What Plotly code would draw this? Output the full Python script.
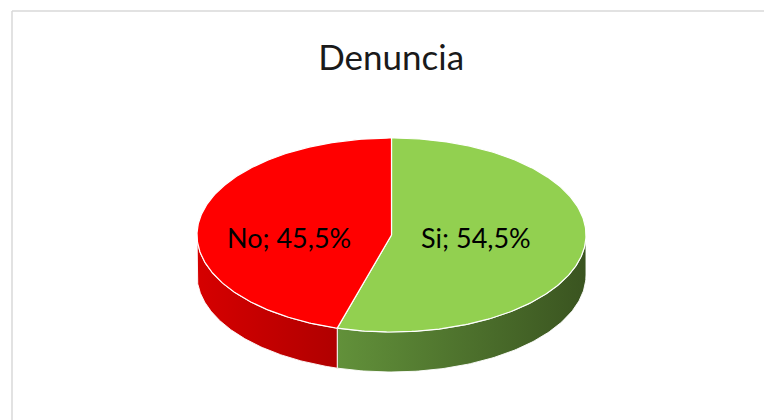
import numpy as np
import plotly.graph_objects as go

# ---- data ----
labels = ["Si", "No"]
values = [54.5, 45.5]
label_texts = ["Si; 54,5%", "No; 45,5%"]
top_colors = ["#92d050", "#ff0000"]
side_colors = [["#62913a", "#3a5420"], ["#d60000", "#b00000"]]
title_text = "Denuncia"

# ---- geometry of the tilted pie (pixel space) ----
W, H = 764, 420
cx, cy = 391.5, 235.0
rx, ry = 194.5, 97.0
depth = 40.0


def pt(theta_deg, fx=1.0, fy=1.0, dx=0.0, dy=0.0):
    t = np.radians(theta_deg)
    return cx + fx * rx * np.sin(t) + dx, cy - fy * ry * np.cos(t) + dy


fig = go.Figure()

total = float(sum(values))
starts = []
acc = 0.0
for v in values:
    starts.append(acc / total * 360.0)
    acc += v
ends = starts[1:] + [360.0]

# sides (front half only: 90..270 degrees)
for i in range(len(values)):
    a = max(starts[i], 90.0)
    b = min(ends[i], 270.0)
    if b <= a:
        continue
    th = np.linspace(a, b, 120)
    xt, yt = pt(th)
    xb, yb = pt(th[::-1], dy=depth)
    xs = np.concatenate([xt, xb, xt[:1]])
    ys = np.concatenate([yt, yb, yt[:1]])
    fig.add_trace(go.Scatter(
        x=xs, y=ys, mode="lines", fill="toself",
        line=dict(color="rgba(255,255,255,0.9)", width=1),
        fillgradient=dict(type="horizontal",
                          colorscale=[[0, side_colors[i][0]], [1, side_colors[i][1]]]),
        hoverinfo="skip", showlegend=False))

# top faces
for i in range(len(values)):
    th = np.linspace(starts[i], ends[i], 240)
    xa, ya = pt(th)
    xs = np.concatenate([[cx], xa, [cx]])
    ys = np.concatenate([[cy], ya, [cy]])
    fig.add_trace(go.Scatter(
        x=xs, y=ys, mode="lines", fill="toself",
        fillcolor=top_colors[i],
        line=dict(color="white", width=1.2),
        name=labels[i], hoverinfo="name", showlegend=False))

# labels
lx, ly = [], []
for i in range(len(values)):
    mid = (starts[i] + ends[i]) / 2.0
    x, y = pt(mid, fx=0.485, fy=0.0, dx=-9, dy=6)
    lx.append(x)
    ly.append(y)
fig.add_trace(go.Scatter(
    x=lx, y=ly, mode="text", text=label_texts,
    textfont=dict(family="Lato, Calibri, sans-serif", size=27, color="#000000"),
    hoverinfo="skip", showlegend=False))

fig.update_layout(
    width=W, height=H,
    margin=dict(l=0, r=0, t=0, b=0),
    paper_bgcolor="white", plot_bgcolor="white",
    title=dict(text=title_text, x=0.512, xanchor="center",
               y=1 - 58 / H, yanchor="middle", yref="paper",
               font=dict(family="Lato, Calibri, sans-serif", size=35, color="#1a1a1a")),
    xaxis=dict(range=[0, W], visible=False, fixedrange=True),
    yaxis=dict(range=[H, 0], visible=False, fixedrange=True),
    shapes=[
        dict(type="line", xref="paper", yref="paper", x0=12 / W, x1=1,
             y0=1 - 11 / H, y1=1 - 11 / H, line=dict(color="#d9d9d9", width=1.5)),
        dict(type="line", xref="paper", yref="paper", x0=12 / W, x1=12 / W,
             y0=0, y1=1 - 11 / H, line=dict(color="#d9d9d9", width=1.5)),
    ],
)

fig.write_html(
    "out.html",
    config={"displayModeBar": False},
    post_script="document.body.style.margin='0';document.body.style.overflow='hidden';",
)
